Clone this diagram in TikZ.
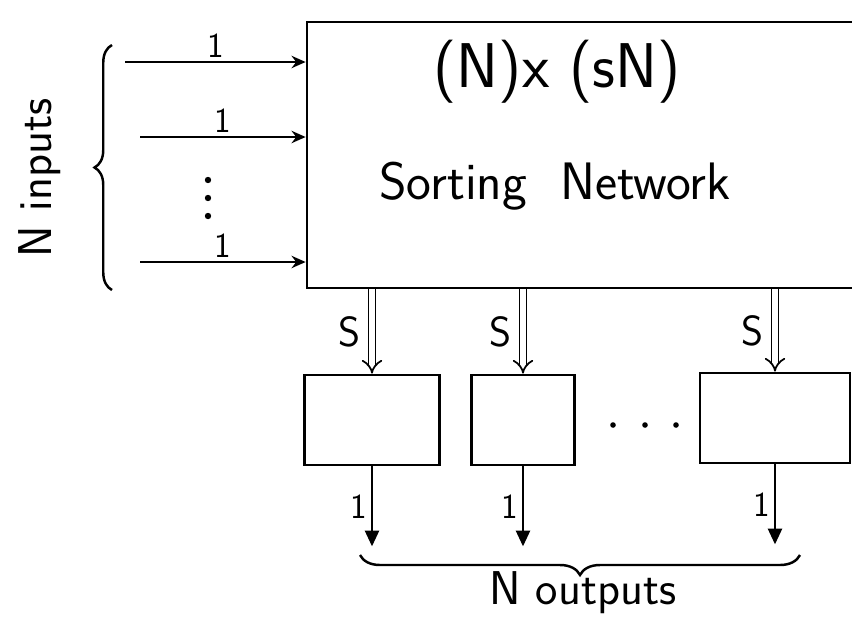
\documentclass[tikz,border=0pt]{standalone}
\usepackage{amsmath, amssymb}
\usepackage{tikz}
\usetikzlibrary{arrows.meta, decorations.pathreplacing, positioning}

\tikzset{
  blk/.style={draw, line width=1.6pt, minimum height=1.8cm},
  inarr/.style={line width=1.4pt, -{Stealth[open, length=8pt, width=7pt]}},
  sarr/.style={double, double distance=3pt, line width=1pt, -{Implies[length=6pt]}},
  outarr/.style={line width=1.4pt, -{Triangle[length=9pt, width=8pt]}},
  lbl/.style={font=\sffamily\fontsize{20}{24}\selectfont, inner sep=2pt},
  slbl/.style={font=\sffamily\fontsize{24}{28}\selectfont, inner sep=6pt},
  bigtxt/.style={font=\sffamily\fontsize{27}{32}\selectfont, inner sep=2pt},
  brc/.style={decorate, line width=1.4pt}
}

\begin{document}
\begin{tikzpicture}[x=0.02cm, y=-0.02cm]
      \useasboundingbox (0,0) rectangle (852,616);

      % 1. the big sorting network (runs off the right edge)
      \node[draw, line width=1.6pt, minimum width=11.6cm, minimum height=5.32cm] (net) at (597,155) {};
      \node[font=\sffamily\fontsize{36}{40}\selectfont] (size) at (557,72) {(N)x (sN)};
      \node[font=\sffamily\fontsize{30}{34}\selectfont] (name) at (555,186) {Sorting\ \ Network};

      % 2. the N inputs, one wire each
      \coordinate (in1) at (125,62);
      \coordinate (in2) at (140,137);
      \coordinate (in3) at (140,262);
      \draw[inarr, -{Stealth[length=8pt, width=7pt]}] (in1) -- (in1 -| net.west) node[lbl, midway, above] {1};
      \draw[inarr] (in2) -- (in2 -| net.west) node[lbl, midway, above] {1};
      \draw[inarr] (in3) -- (in3 -| net.west) node[lbl, midway, above] {1};
      \foreach \y in {180,198,216}
        \fill (208,\y) circle (3.2);

      % 3. brace and text for the inputs
      \draw[brc, decoration={brace, amplitude=0.35cm}] (112,290) -- (112,45);
      \node[bigtxt, rotate=90] (inputs) at (40,178) {N inputs};

      % 4. the small boxes below the network
      \node[blk, minimum width=2.7cm] (b1) at (372,420) {};
      \node[blk, minimum width=2.06cm] (b2) at (523,420) {};
      \node[blk, minimum width=3cm] (b3) at (775,418) {};
      \foreach \x in {613,645,676}
        \fill (\x,425) circle (2.8);

      % 5. S wires from the network into every box
      \draw[sarr] (b1.north |- net.south) -- (b1.north) node[slbl, midway, left] {S};
      \draw[sarr] (b2.north |- net.south) -- (b2.north) node[slbl, midway, left] {S};
      \draw[sarr] (b3.north |- net.south) -- (b3.north) node[slbl, midway, left] {S};

      % 6. one output per box
      \coordinate[below=1.6cm of b1.south] (o1);
      \coordinate[below=1.6cm of b2.south] (o2);
      \coordinate[below=1.6cm of b3.south] (o3);
      \draw[outarr] (b1.south) -- (o1) node[lbl, midway, left] {1};
      \draw[outarr] (b2.south) -- (o2) node[lbl, midway, left] {1};
      \draw[outarr] (b3.south) -- (o3) node[lbl, midway, left] {1};

      % 7. brace and text for the outputs
      \draw[brc, decoration={brace, amplitude=0.4cm}] (800,555) -- (360,555);
      \node[bigtxt] (outputs) at (583,593) {N outputs};
\end{tikzpicture}
\end{document}
